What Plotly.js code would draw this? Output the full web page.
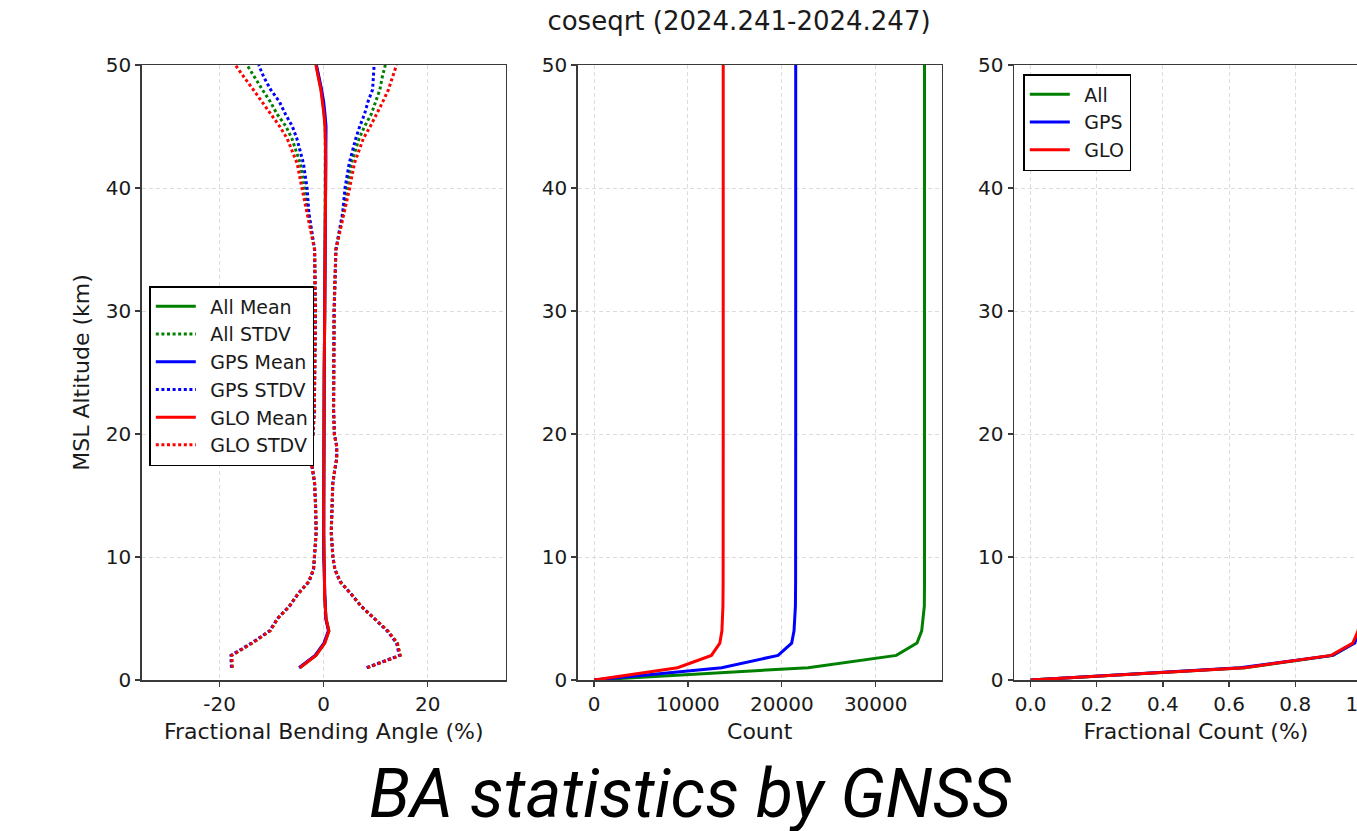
<!DOCTYPE html>
<html>
<head>
<meta charset="utf-8">
<script src="https://cdn.plot.ly/plotly-3.0.1.min.js"></script>
<style>
  html, body { margin: 0; padding: 0; overflow: hidden; background: #fff; }
  #chart { width: 1420px; height: 831px; }
</style>
</head>
<body>
<div id="chart"></div>
<script>
// ---------- Data ----------
const altitudes = [1,2,3,4,5,6,7,8,9,10,12,14,16,17,18,19,20,22,25,30,35,38,40,42,44,45,46,47,48,49,50];

const allMean = [-4.6,-1.5,0.2,1.0,0.45,0.3,0.15,0.15,0.1,0,0,0,0,0,0,0,0,0.05,0.1,0.2,0.3,0.35,0.4,0.4,0.35,0.3,0.1,-0.15,-0.5,-1.0,-1.45];
const gpsMean = [-4.75,-1.65,0.05,0.9,0.4,0.3,0.15,0.15,0.1,0,0,0,0,0,0,0,0,0.05,0.1,0.2,0.3,0.4,0.45,0.5,0.5,0.45,0.25,0.0,-0.4,-0.95,-1.4];
const gloMean = [-4.6,-1.5,0.2,1.0,0.45,0.3,0.15,0.15,0.1,0,0,0,0,0,0,0,0,0.05,0.1,0.2,0.3,0.35,0.4,0.4,0.3,0.25,0.05,-0.2,-0.55,-1.05,-1.5];

const allStd = [13.0,16.2,13.95,11.3,9.3,6.9,5.1,3.0,2.05,1.77,1.45,1.55,1.75,2.1,2.5,2.5,2.05,1.85,1.8,1.8,2.05,3.4,4.1,4.9,6.45,7.55,9.05,10.1,11.3,12.25,13.3];
const gpsStd = [13.0,16.2,13.95,11.3,9.3,6.9,5.1,3.0,2.05,1.77,1.45,1.55,1.75,2.1,2.5,2.5,2.05,1.85,1.8,1.8,2.05,3.25,3.65,4.4,5.65,6.47,7.6,8.5,9.8,10.55,11.1];
const gloStd = [13.0,16.2,13.95,11.3,9.3,6.9,5.1,3.0,2.05,1.77,1.45,1.55,1.75,2.1,2.5,2.5,2.05,1.85,1.8,1.8,2.05,3.6,4.6,5.5,7.3,8.7,10.15,11.55,13.0,14.25,15.5];

const countAltitudes = [0,1,2,3,4,5,6,8,10,20,30,40,50];
const allCount = [0,22800,32200,34400,34900,35070,35180,35200,35200,35200,35200,35200,35200];
const gpsCount = [0,13600,19600,21050,21300,21400,21450,21470,21480,21480,21480,21480,21480];
const gloCount = [0,8900,12500,13400,13620,13700,13730,13750,13760,13760,13760,13760,13760];

const seriesNames = ['All','GPS','GLO'];
const seriesColors = ['#008000','#0000ff','#ff0000'];

const baTickVals = [-20, 0, 20];
const baTickText = ['-20', '0', '20'];

// ---------- Build traces ----------
const FONT = 'DejaVu Sans, Verdana, sans-serif';
const means = [allMean, gpsMean, gloMean];
const stds = [allStd, gpsStd, gloStd];
const counts = [allCount, gpsCount, gloCount];
const DOT = '3px,2.6px';
const GAP = '\u2002';

const traces = [];
seriesNames.forEach((name, i) => {
  const m = means[i], s = stds[i], c = seriesColors[i];
  traces.push({
    x: m, y: altitudes, xaxis: 'x', yaxis: 'y', mode: 'lines', type: 'scatter',
    name: GAP + name + ' Mean', legend: 'legend',
    line: {color: c, width: 3}, hoverinfo: 'skip'
  });
  traces.push({
    x: m.map((v, k) => v + s[k]), y: altitudes, xaxis: 'x', yaxis: 'y', mode: 'lines', type: 'scatter',
    name: GAP + name + ' STDV', legend: 'legend', legendgroup: name + 'std',
    line: {color: c, width: 3, dash: DOT}, hoverinfo: 'skip'
  });
  traces.push({
    x: m.map((v, k) => v - s[k]), y: altitudes, xaxis: 'x', yaxis: 'y', mode: 'lines', type: 'scatter',
    name: name + ' STDV', legendgroup: name + 'std', showlegend: false,
    line: {color: c, width: 3, dash: DOT}, hoverinfo: 'skip'
  });
});
seriesNames.forEach((name, i) => {
  traces.push({
    x: counts[i], y: countAltitudes, xaxis: 'x2', yaxis: 'y2', mode: 'lines', type: 'scatter',
    name: name, showlegend: false, line: {color: seriesColors[i], width: 3}, hoverinfo: 'skip'
  });
});
seriesNames.forEach((name, i) => {
  const cs = counts[i];
  const mx = Math.max.apply(null, cs);
  traces.push({
    x: cs.map(v => v / mx), y: countAltitudes, xaxis: 'x3', yaxis: 'y3', mode: 'lines', type: 'scatter',
    name: GAP + name, legend: 'legend2', line: {color: seriesColors[i], width: 3}, hoverinfo: 'skip'
  });
});

// ---------- Layout ----------
const W = 1420, H = 831;
const yDom = [151 / H, 766 / H];
const axisCommon = {
  showline: true, mirror: true, linecolor: '#3a3a3a', linewidth: 1.5,
  ticks: 'outside', ticklen: 5, tickwidth: 1.3, tickcolor: '#3a3a3a',
  showgrid: true, gridcolor: '#dcdcdc', gridwidth: 1, griddash: '4px,3px',
  zeroline: false, tickfont: {family: FONT, size: 20, color: '#1a1a1a'},
  automargin: false, fixedrange: true
};
const yCommon = Object.assign({}, axisCommon, {
  range: [0, 50], tick0: 0, dtick: 10, domain: yDom
});
const titleFont = {family: FONT, size: 22, color: '#1a1a1a'};

const layout = {
  width: W, height: H,
  margin: {l: 0, r: 0, t: 0, b: 0},
  paper_bgcolor: '#ffffff', plot_bgcolor: '#ffffff',
  font: {family: FONT, color: '#1a1a1a'},
  title: {
    text: 'coseqrt (2024.241-2024.247)',
    font: {family: FONT, size: 26, color: '#1a1a1a'},
    x: 739 / W, xanchor: 'center', xref: 'paper',
    y: 1 - 21 / H, yanchor: 'middle', yref: 'paper'
  },
  xaxis: Object.assign({}, axisCommon, {
    domain: [141.7 / W, 505.7 / W], range: [-35, 35],
    tickmode: 'array', tickvals: baTickVals, ticktext: baTickText, anchor: 'y',
    title: {text: 'Fractional Bending Angle (%)', font: titleFont, standoff: 9}
  }),
  yaxis: Object.assign({}, yCommon, {
    anchor: 'x',
    title: {text: 'MSL Altitude (km)', font: titleFont, standoff: 10}
  }),
  xaxis2: Object.assign({}, axisCommon, {
    domain: [577.7 / W, 941.7 / W], range: [-1740, 37030], tick0: 0, dtick: 10000, anchor: 'y2',
    tickformat: 'd',
    title: {text: 'Count', font: titleFont, standoff: 9}
  }),
  yaxis2: Object.assign({}, yCommon, {anchor: 'x2'}),
  xaxis3: Object.assign({}, axisCommon, {
    domain: [1014 / W, 1378 / W], range: [-0.05, 1.05], tick0: 0, dtick: 0.2, anchor: 'y3',
    tickformat: '.1f',
    title: {text: 'Fractional Count (%)', font: titleFont, standoff: 9}
  }),
  yaxis3: Object.assign({}, yCommon, {anchor: 'x3'}),
  legend: {
    x: 149.3 / W, y: 1 - 286 / H, xanchor: 'left', yanchor: 'top',
    bgcolor: '#ffffff', bordercolor: '#000000', borderwidth: 1.5,
    font: {family: FONT, size: 19, color: '#1a1a1a'}, traceorder: 'normal',
    itemwidth: 40
  },
  legend2: {
    x: 1023.3 / W, y: 1 - 74 / H, xanchor: 'left', yanchor: 'top',
    bgcolor: '#ffffff', bordercolor: '#000000', borderwidth: 1.5,
    font: {family: FONT, size: 19, color: '#1a1a1a'}, traceorder: 'normal',
    itemwidth: 40
  },
  annotations: [{
    text: '<i>BA statistics by GNSS</i>',
    xref: 'paper', yref: 'paper', x: 690 / W, y: 1 - 794 / H,
    xanchor: 'center', yanchor: 'middle', showarrow: false,
    font: {family: 'Roboto, Inter, sans-serif', size: 68, color: '#000000'}
  }]
};

Plotly.newPlot('chart', traces, layout, {displayModeBar: false, staticPlot: true});
</script>
</body>
</html>
